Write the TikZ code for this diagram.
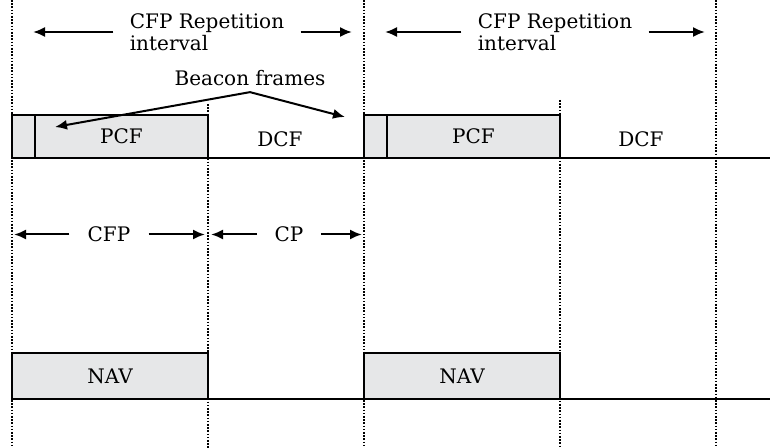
\documentclass[tikz,border=0pt]{standalone}
\usepackage{fontspec}
\setmainfont{DejaVu Serif}
\usetikzlibrary{positioning, arrows.meta}

\definecolor{framegray}{RGB}{230,231,232}

\begin{document}
\begin{tikzpicture}[x=0.5pt, y=-0.5pt]
    \tikzstyle{frame}=[rectangle, draw=black, fill=framegray, line width=1pt, inner sep=0pt, outer sep=0pt, minimum height=21.5pt, font=\fontsize{10}{11}\selectfont];
    \tikzstyle{lbl}=[font=\fontsize{10}{11}\selectfont, inner sep=0pt];
    \tikzstyle{arr}=[-{Latex[length=6pt, width=5pt]}, line width=1pt];
    \tikzstyle{slot}=[line width=1pt, dash pattern=on 0.8pt off 0.8pt];

    \useasboundingbox (0,0) rectangle (770,448);

    % slot boundaries
    \draw[slot] (12,0) -- (12,448);
    \draw[slot] (208,104) -- (208,448);
    \draw[slot] (364,0) -- (364,448);
    \draw[slot] (560,100) -- (560,448);
    \draw[slot] (716,0) -- (716,448);

    % upper time line
    \node (b1) at (23.5,136.5) [frame, minimum width=11.5pt] {};
    \node (pcf1) at (121.5,136.5) [frame, minimum width=86.5pt] {PCF};
    \node (dcf1) at (280,139.5) [lbl] {DCF};
    \node (b2) at (375.5,136.5) [frame, minimum width=11.5pt] {};
    \node (pcf2) at (473.5,136.5) [frame, minimum width=86.5pt] {PCF};
    \node (dcf2) at (641,139.5) [lbl] {DCF};
    \coordinate (end1) at (770,158);
    \draw[line width=1pt] (pcf1.south east) -- (b2.south west);
    \draw[line width=1pt] (pcf2.south east) -- (end1);

    % repetition intervals
    \node (rep1) at (207,32) [lbl, align=left, inner xsep=8pt] {CFP Repetition\\interval};
    \node (rep2) at (555,32) [lbl, align=left, inner xsep=8pt] {CFP Repetition\\interval};
    \coordinate (rep1l) at (33,29);
    \coordinate (rep1r) at (352,29);
    \coordinate (rep2l) at (385,29);
    \coordinate (rep2r) at (705,29);
    \draw[arr] (rep1.west) -- (rep1.west -| rep1l);
    \draw[arr] (rep1.east) -- (rep1.east -| rep1r);
    \draw[arr] (rep2.west) -- (rep2.west -| rep2l);
    \draw[arr] (rep2.east) -- (rep2.east -| rep2r);

    % beacons
    \node (bcn) at (250,78) [lbl] {Beacon frames};
    \coordinate (bcn1) at (55,127);
    \coordinate (bcn2) at (345,117);
    \draw[arr] ([yshift=-3pt]bcn.south) -- (bcn1);
    \draw[arr] ([yshift=-3pt]bcn.south) -- (bcn2);

    % CFP and CP
    \node (cfp) at (109,234.5) [lbl, inner xsep=9pt] {CFP};
    \node (cp) at (289,234.5) [lbl, inner xsep=8.5pt] {CP};
    \coordinate (cfpl) at (14,0);
    \coordinate (cfpr) at (205,0);
    \coordinate (cpl) at (211,0);
    \coordinate (cpr) at (362,0);
    \draw[arr] (cfp.west) -- (cfp.west -| cfpl);
    \draw[arr] (cfp.east) -- (cfp.east -| cfpr);
    \draw[arr] (cp.west) -- (cp.west -| cpl);
    \draw[arr] (cp.east) -- (cp.east -| cpr);

    % lower time line
    \node (nav1) at (110,376) [frame, minimum width=98pt, minimum height=23pt] {NAV};
    \node (nav2) at (462,376) [frame, minimum width=98pt, minimum height=23pt] {NAV};
    \coordinate (end2) at (770,399);
    \draw[line width=1pt] (nav1.south east) -- (nav2.south west);
    \draw[line width=1pt] (nav2.south east) -- (end2);
\end{tikzpicture}
\end{document}
